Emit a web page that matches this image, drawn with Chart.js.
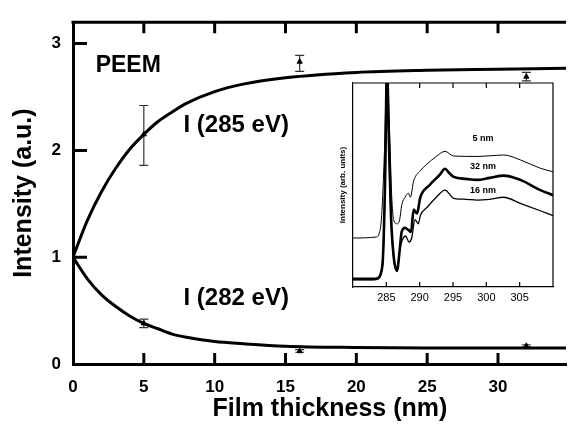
<!DOCTYPE html>
<html>
<head>
<meta charset="utf-8">
<script src="https://cdn.jsdelivr.net/npm/chart.js@4.4.1/dist/chart.umd.min.js"></script>
<style>
  html, body { margin: 0; padding: 0; background: #fff; overflow: hidden; }
  #wrap { position: relative; width: 571px; height: 431px; overflow: hidden; }
  #main { position: absolute; left: 0; top: 0; width: 571px; height: 431px; }
  #inset { position: absolute; left: 330px; top: 78px; width: 235px; height: 232px; }
</style>
</head>
<body>
<div id="wrap">
  <div id="main"><canvas id="mainChart"></canvas></div>
  <div id="inset"><canvas id="insetChart"></canvas></div>
</div>
<script>
const FONT = "'Liberation Sans', Arial, Helvetica, sans-serif";

// main panel: PEEM intensity vs film thickness
const thickness = [0, 1, 2, 3, 4, 5, 6, 7, 8, 10, 12, 15, 20, 25, 30, 35];
const fit285 = [1.00, 1.34, 1.61, 1.83, 2.01, 2.15, 2.27, 2.36, 2.44, 2.55, 2.62, 2.68, 2.73, 2.75, 2.76, 2.77];
const fit282 = [1.00, 0.80, 0.65, 0.54, 0.45, 0.38, 0.33, 0.28, 0.25, 0.21, 0.19, 0.167, 0.155, 0.15, 0.15, 0.15];

const measX = [5, 16, 32];
const meas285 = [2.15, 2.83, 2.69];
const meas285Lo = [1.86, 2.74, 2.65];
const meas285Hi = [2.42, 2.89, 2.73];
const meas282 = [0.38, 0.12, 0.17];
const meas282Lo = [0.34, 0.11, 0.16];
const meas282Hi = [0.42, 0.135, 0.18];

const xTicks = [0, 5, 10, 15, 20, 25, 30];
const yTicks = [0, 1, 2, 3];

// inset: C K-edge spectra (arb. units)
const e5 = [280, 283.5, 283.9, 284.3, 284.7, 285.1, 285.5, 285.8, 286.1, 286.6, 287.0, 287.3, 287.8, 288.3, 288.6, 289.1, 290.1, 291.0, 292.5, 293.8, 295.1, 298.6, 300.5, 302.6, 305.1, 308.1, 310];
const i5 = [0.24, 0.245, 0.26, 0.35, 0.65, 1.05, 0.75, 0.45, 0.33, 0.31, 0.33, 0.40, 0.44, 0.46, 0.44, 0.52, 0.57, 0.60, 0.64, 0.665, 0.642, 0.64, 0.643, 0.647, 0.623, 0.582, 0.565];

const e32 = [280, 283, 283.8, 284.2, 284.5, 284.8, 285.1, 285.4, 285.7, 286.1, 286.6, 287.0, 287.3, 287.8, 288.3, 288.7, 289.1, 289.6, 290.1, 291.5, 293.0, 293.8, 294.4, 295.1, 297.0, 298.6, 300.5, 302.6, 305.1, 308.1, 310];
const i32 = [0.04, 0.04, 0.045, 0.07, 0.15, 0.5, 1.08, 0.7, 0.35, 0.15, 0.08, 0.18, 0.27, 0.29, 0.28, 0.27, 0.38, 0.36, 0.44, 0.50, 0.55, 0.58, 0.56, 0.54, 0.53, 0.525, 0.535, 0.546, 0.525, 0.475, 0.45];

const e16 = [280, 283, 283.8, 284.2, 284.5, 284.8, 285.1, 285.4, 285.7, 286.1, 286.6, 287.0, 287.4, 287.9, 288.4, 288.8, 289.3, 289.8, 290.1, 291.1, 292.5, 293.8, 295.1, 297.0, 298.6, 300.5, 302.6, 305.1, 308.0, 310];
const i16 = [0.035, 0.035, 0.04, 0.065, 0.14, 0.48, 1.05, 0.68, 0.33, 0.14, 0.075, 0.18, 0.23, 0.25, 0.22, 0.24, 0.33, 0.31, 0.35, 0.39, 0.44, 0.475, 0.435, 0.43, 0.426, 0.43, 0.44, 0.41, 0.375, 0.35];

const insetTicks = [285, 290, 295, 300, 305];

const toPoints = (xs, ys) => xs.map((v, i) => ({ x: v, y: ys[i] }));

const mainDecor = {
  id: 'mainDecor',
  beforeDatasetsDraw(chart) {
    const { ctx, scales: { x, y } } = chart;
    ctx.save();
    ctx.strokeStyle = '#333';
    ctx.lineWidth = 1.2;
    const bars = [[meas285Lo, meas285Hi], [meas282Lo, meas282Hi]];
    bars.forEach(([lo, hi]) => {
      measX.forEach((t, i) => {
        const px = x.getPixelForValue(t);
        const y1 = y.getPixelForValue(lo[i]);
        const y2 = y.getPixelForValue(hi[i]);
        ctx.beginPath();
        ctx.moveTo(px, y1); ctx.lineTo(px, y2);
        ctx.moveTo(px - 4.5, y1); ctx.lineTo(px + 4.5, y1);
        ctx.moveTo(px - 4.5, y2); ctx.lineTo(px + 4.5, y2);
        ctx.stroke();
      });
    });
    ctx.restore();
  },
  afterDraw(chart) {
    const { ctx, chartArea: a, scales: { x, y } } = chart;
    ctx.save();
    ctx.strokeStyle = '#000';
    ctx.lineWidth = 3;
    ctx.beginPath();
    ctx.moveTo(a.left - 1.5, a.top);
    ctx.lineTo(a.right, a.top);
    xTicks.forEach(v => {
      if (v === 0) return;
      const px = x.getPixelForValue(v);
      ctx.moveTo(px, a.bottom); ctx.lineTo(px, a.bottom - 11);
      ctx.moveTo(px, a.top); ctx.lineTo(px, a.top + 11);
    });
    yTicks.forEach(v => {
      if (v === 0) return;
      const py = y.getPixelForValue(v);
      ctx.moveTo(a.left, py); ctx.lineTo(a.left + 14, py);
    });
    ctx.stroke();

    ctx.fillStyle = '#000';
    ctx.textAlign = 'left';
    ctx.textBaseline = 'alphabetic';
    ctx.font = `bold 23px ${FONT}`;
    ctx.fillText('PEEM', x.getPixelForValue(1.6), y.getPixelForValue(2.73));
    ctx.font = `bold 24px ${FONT}`;
    ctx.fillText('I (285 eV)', x.getPixelForValue(7.8), y.getPixelForValue(2.17));
    ctx.fillText('I (282 eV)', x.getPixelForValue(7.8), y.getPixelForValue(0.55));
    ctx.restore();
  }
};

const lineStyle = {
  borderColor: '#000',
  borderWidth: 3,
  pointRadius: 0,
  fill: false,
  cubicInterpolationMode: 'monotone'
};
const markStyle = {
  showLine: false,
  pointStyle: 'triangle',
  pointRadius: 3,
  backgroundColor: '#000',
  borderColor: '#000',
  borderWidth: 1
};

new Chart(document.getElementById('mainChart'), {
  type: 'line',
  data: {
    datasets: [
      { label: 'I (285 eV) fit', data: toPoints(thickness, fit285), ...lineStyle },
      { label: 'I (282 eV) fit', data: toPoints(thickness, fit282), ...lineStyle },
      { label: 'I (285 eV)', data: toPoints(measX, meas285), ...markStyle },
      { label: 'I (282 eV)', data: toPoints(measX, meas282), ...markStyle }
    ]
  },
  options: {
    responsive: true,
    maintainAspectRatio: false,
    animation: false,
    layout: { padding: { top: 15, right: 0, bottom: 0, left: 0 } },
    plugins: { legend: { display: false }, tooltip: { enabled: false } },
    scales: {
      x: {
        type: 'linear',
        min: 0,
        max: 34.8,
        afterBuildTicks(scale) { scale.ticks = xTicks.map(v => ({ value: v })); },
        afterFit(scale) { scale.height = 67; },
        grid: { drawOnChartArea: false, drawTicks: false },
        border: { display: true, width: 3, color: '#000' },
        ticks: { color: '#000', padding: 13, font: { family: FONT, size: 17, weight: 'bold' } },
        title: {
          display: true,
          // leading spaces nudge the centred title right, as in the original
          text: '   Film thickness (nm)',
          color: '#000',
          padding: { top: 0, bottom: 7 },
          font: { family: FONT, size: 25, weight: 'bold' }
        }
      },
      y: {
        type: 'linear',
        min: 0,
        max: 3.2,
        afterBuildTicks(scale) { scale.ticks = yTicks.map(v => ({ value: v })); },
        afterFit(scale) { scale.width = 73; },
        grid: { drawOnChartArea: false, drawTicks: false },
        border: { display: true, width: 3, color: '#000' },
        ticks: { color: '#000', padding: 12, font: { family: FONT, size: 17, weight: 'bold' } },
        title: {
          display: true,
          text: 'Intensity (a.u.)',
          color: '#000',
          padding: { top: 9, bottom: 0 },
          font: { family: FONT, size: 25, weight: 'bold' }
        }
      }
    }
  },
  plugins: [mainDecor]
});

const insetDecor = {
  id: 'insetDecor',
  afterDraw(chart) {
    const { ctx, chartArea: a, scales: { x, y } } = chart;
    ctx.save();
    ctx.strokeStyle = '#000';
    ctx.lineWidth = 1.2;
    ctx.beginPath();
    ctx.moveTo(a.left, a.top); ctx.lineTo(a.right, a.top); ctx.lineTo(a.right, a.bottom);
    insetTicks.forEach(v => {
      const px = x.getPixelForValue(v);
      ctx.moveTo(px, a.bottom); ctx.lineTo(px, a.bottom - 5);
      ctx.moveTo(px, a.top); ctx.lineTo(px, a.top + 5);
    });
    ctx.stroke();

    ctx.fillStyle = '#000';
    ctx.font = `bold 9px ${FONT}`;
    ctx.textAlign = 'center';
    ctx.textBaseline = 'middle';
    ctx.fillText('5 nm', x.getPixelForValue(299.5), y.getPixelForValue(0.73));
    ctx.fillText('32 nm', x.getPixelForValue(299.5), y.getPixelForValue(0.59));
    ctx.fillText('16 nm', x.getPixelForValue(299.5), y.getPixelForValue(0.475));
    ctx.restore();
  }
};

const specStyle = {
  borderColor: '#000',
  pointRadius: 0,
  fill: false,
  cubicInterpolationMode: 'monotone'
};

new Chart(document.getElementById('insetChart'), {
  type: 'line',
  data: {
    datasets: [
      { label: '5 nm', data: toPoints(e5, i5), borderWidth: 1, ...specStyle },
      { label: '32 nm', data: toPoints(e32, i32), borderWidth: 2.6, ...specStyle },
      { label: '16 nm', data: toPoints(e16, i16), borderWidth: 1.3, ...specStyle }
    ]
  },
  options: {
    responsive: true,
    maintainAspectRatio: false,
    animation: false,
    layout: { padding: { top: 5, right: 12, bottom: 0, left: 0 } },
    plugins: { legend: { display: false }, tooltip: { enabled: false } },
    scales: {
      x: {
        type: 'linear',
        min: 280,
        max: 310,
        afterBuildTicks(scale) { scale.ticks = insetTicks.map(v => ({ value: v })); },
        afterFit(scale) { scale.height = 23; },
        grid: { drawOnChartArea: false, drawTicks: false },
        border: { display: true, width: 1.2, color: '#000' },
        ticks: { color: '#000', padding: 4, font: { family: FONT, size: 11 } }
      },
      y: {
        type: 'linear',
        min: 0,
        max: 1,
        afterFit(scale) { scale.width = 23; },
        grid: { drawOnChartArea: false, drawTicks: false },
        border: { display: true, width: 1.2, color: '#000' },
        ticks: { display: false },
        title: {
          display: true,
          text: 'Intensity (arb. units)',
          color: '#000',
          padding: { top: 8, bottom: 0 },
          font: { family: FONT, size: 8, weight: 'bold' }
        }
      }
    }
  },
  plugins: [insetDecor]
});
</script>
</body>
</html>
